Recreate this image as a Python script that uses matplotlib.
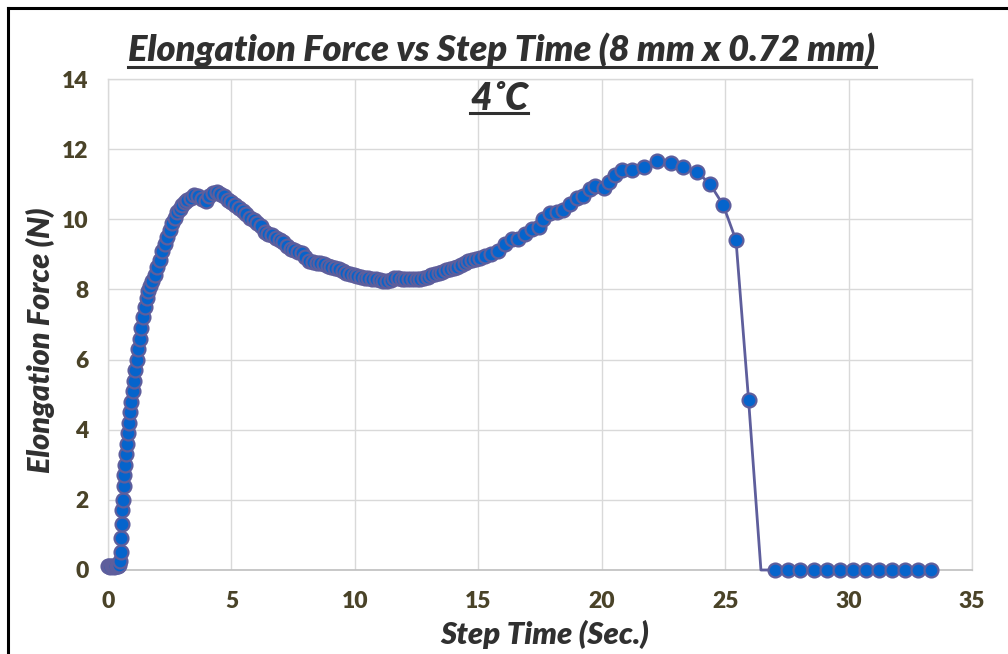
import matplotlib
matplotlib.use("Agg")
import matplotlib.pyplot as plt
from matplotlib.lines import Line2D

# Step time (s) and elongation force (N), split by loading phase
time_rise = [0.00, 0.05, 0.10, 0.15, 0.20, 0.25, 0.30, 0.35, 0.40, 0.45,
             0.50, 0.52, 0.54, 0.56, 0.58, 0.60, 0.63, 0.66, 0.70, 0.74,
             0.78, 0.82, 0.86, 0.90, 0.95, 1.00, 1.05, 1.10, 1.16, 1.22,
             1.28, 1.34, 1.41, 1.48, 1.56, 1.63, 1.70, 1.80, 1.90, 2.00,
             2.10, 2.20, 2.30, 2.40, 2.50, 2.60, 2.70, 2.80, 2.90, 3.00,
             3.10, 3.20, 3.35, 3.50, 3.65, 3.80, 3.95, 4.10, 4.25, 4.40]
force_rise = [0.10, 0.12, 0.08, 0.10, 0.11, 0.09, 0.10, 0.12, 0.10, 0.14,
              0.25, 0.50, 0.90, 1.30, 1.70, 2.00, 2.40, 2.70, 3.00, 3.30,
              3.60, 3.90, 4.20, 4.50, 4.80, 5.10, 5.40, 5.70, 6.00, 6.30,
              6.60, 6.90, 7.20, 7.50, 7.75, 7.95, 8.10, 8.25, 8.40, 8.65,
              8.85, 9.10, 9.30, 9.50, 9.70, 9.90, 10.05, 10.20, 10.30, 10.40,
              10.48, 10.55, 10.62, 10.68, 10.65, 10.58, 10.52, 10.65, 10.75, 10.78]

time_soften = [4.55, 4.70, 4.85, 5.00, 5.15, 5.30, 5.45, 5.60, 5.75, 5.90,
               6.05, 6.20, 6.35, 6.50, 6.65, 6.80, 6.95, 7.10, 7.25, 7.40,
               7.55, 7.70, 7.85, 8.00, 8.15, 8.30, 8.45, 8.60, 8.75, 8.90,
               9.05, 9.20, 9.35, 9.50, 9.65, 9.80, 9.95, 10.10, 10.25, 10.40,
               10.55, 10.70, 10.85, 11.00, 11.15, 11.30, 11.45, 11.60, 11.75, 11.90,
               12.05, 12.20, 12.35, 12.50, 12.65, 12.80, 12.95, 13.10, 13.25, 13.40,
               13.55, 13.70, 13.85, 14.00, 14.15, 14.30, 14.45, 14.60, 14.75, 14.90]
force_soften = [10.72, 10.65, 10.55, 10.48, 10.42, 10.32, 10.25, 10.15, 10.05, 9.98,
                9.90, 9.80, 9.65, 9.57, 9.55, 9.48, 9.40, 9.35, 9.25, 9.15,
                9.12, 9.08, 9.05, 8.92, 8.80, 8.78, 8.76, 8.75, 8.72, 8.68,
                8.65, 8.62, 8.58, 8.52, 8.46, 8.43, 8.40, 8.38, 8.36, 8.34,
                8.32, 8.30, 8.29, 8.27, 8.25, 8.24, 8.28, 8.32, 8.33, 8.31,
                8.30, 8.29, 8.29, 8.29, 8.30, 8.32, 8.35, 8.40, 8.45, 8.48,
                8.50, 8.54, 8.57, 8.60, 8.65, 8.69, 8.74, 8.80, 8.84, 8.86]

time_harden = [15.06, 15.26, 15.53, 15.80, 16.08, 16.35, 16.62, 16.90, 17.17, 17.44,
               17.64, 17.91, 18.19, 18.45, 18.72, 19.00, 19.26, 19.54, 19.74, 20.08,
               20.28, 20.55, 20.82, 21.23, 21.70, 22.25, 22.79, 23.29, 23.85, 24.39,
               24.92, 25.44, 25.95]
force_harden = [8.90, 8.95, 9.00, 9.09, 9.29, 9.43, 9.45, 9.59, 9.71, 9.79,
                10.02, 10.17, 10.21, 10.26, 10.43, 10.62, 10.65, 10.86, 10.95, 10.90,
                11.05, 11.26, 11.40, 11.40, 11.48, 11.67, 11.60, 11.48, 11.36, 11.00,
                10.41, 9.40, 4.84]

# fracture point (line only) followed by the broken-specimen readings
time_break = [26.45]
force_break = [0.0]
time_tail = [27.00, 27.53, 28.05, 28.58, 29.11, 29.64, 30.16, 30.69, 31.22,
             31.74, 32.27, 32.80, 33.32]
force_tail = [0.0] * 13

x_ticks = [0, 5, 10, 15, 20, 25, 30, 35]
y_ticks = [0, 2, 4, 6, 8, 10, 12, 14]

title_text = "Elongation Force vs Step Time (8 mm x 0.72 mm)"
subtitle_text = "4\u02daC"
x_label = "Step Time (Sec.)"
y_label = "Elongation Force (N)"

FONT = ["Lato", "DejaVu Sans"]
TICK_COLOR = "#4A4328"
TEXT_COLOR = "#303030"
LINE_COLOR = "#5E5E9C"
FACE_COLOR = "#0564CC"
GRID_COLOR = "#D9D9D9"

W, H = 1008, 654
fig = plt.figure(figsize=(W / 100, H / 100), dpi=100)
ax = fig.add_axes([108 / W, 1 - 570 / H, (972 - 108) / W, (570 - 79) / H])

t_all = time_rise + time_soften + time_harden + time_break + time_tail
f_all = force_rise + force_soften + force_harden + force_break + force_tail
break_idx = len(time_rise) + len(time_soften) + len(time_harden)
marked = [i for i in range(len(t_all)) if i != break_idx]

ax.plot(t_all, f_all, color=LINE_COLOR, lw=2.0, marker="o", ms=10,
        mfc=FACE_COLOR, mec=LINE_COLOR, mew=1.6, markevery=marked,
        zorder=3, clip_on=False)

ax.set_xlim(0, 35)
ax.set_ylim(0, 14)
ax.set_xticks(x_ticks)
ax.set_yticks(y_ticks)
ax.grid(True, color=GRID_COLOR, lw=1.0)
ax.set_axisbelow(True)
for side in ("left", "top", "right"):
    ax.spines[side].set_color(GRID_COLOR)
    ax.spines[side].set_linewidth(1.0)
ax.spines["bottom"].set_color("#BFBFBF")
ax.spines["bottom"].set_linewidth(1.2)
ax.tick_params(length=0, labelcolor=TICK_COLOR)
ax.tick_params(axis="x", pad=15)
ax.tick_params(axis="y", pad=14)
for lab in ax.get_xticklabels() + ax.get_yticklabels():
    lab.set_family(FONT)
    lab.set_fontweight("heavy")
    lab.set_fontsize(16.5)

heading = dict(family=FONT, fontweight="heavy", fontstyle="italic", color=TEXT_COLOR)
title = fig.text(502 / W, 1 - 50 / H, title_text, ha="center", va="center",
                 fontsize=24, **heading)
subtitle = fig.text(499 / W, 1 - 98 / H, subtitle_text, ha="center", va="center",
                    fontsize=24, **heading)
xlab = fig.text(545 / W, 1 - 634 / H, x_label, ha="center", va="center",
                fontsize=20, **heading)
ylab = fig.text(40 / W, 1 - 340 / H, y_label, ha="center", va="center",
                rotation=90, fontsize=20, **heading)

# scale each heading so that it spans its intended length in pixels
fig.canvas.draw()
renderer = fig.canvas.get_renderer()
for txt, span, vertical in ((title, 748, False), (subtitle, 58, False),
                            (xlab, 209, False), (ylab, 266, True)):
    bb = txt.get_window_extent(renderer)
    size = bb.height if vertical else bb.width
    txt.set_fontsize(txt.get_fontsize() * span / size)

# underline the two heading lines
fig.canvas.draw()
inv = fig.transFigure.inverted()
for txt, y_px in ((title, 67), (subtitle, 113)):
    bb = txt.get_window_extent(renderer)
    (x0, _), (x1, _) = inv.transform([(bb.x0, 0), (bb.x1, 0)])
    yf = 1 - y_px / H
    fig.add_artist(Line2D([x0, x1], [yf, yf], transform=fig.transFigure,
                          color=TEXT_COLOR, lw=2.2))

# outer frame edges
fig.add_artist(Line2D([8 / W, 8 / W], [0, 1 - 8 / H],
                      transform=fig.transFigure, color="black", lw=2.2))
fig.add_artist(Line2D([8 / W, 1], [1 - 8 / H, 1 - 8 / H],
                      transform=fig.transFigure, color="black", lw=2.2))

fig.savefig("out.png", dpi=100)
